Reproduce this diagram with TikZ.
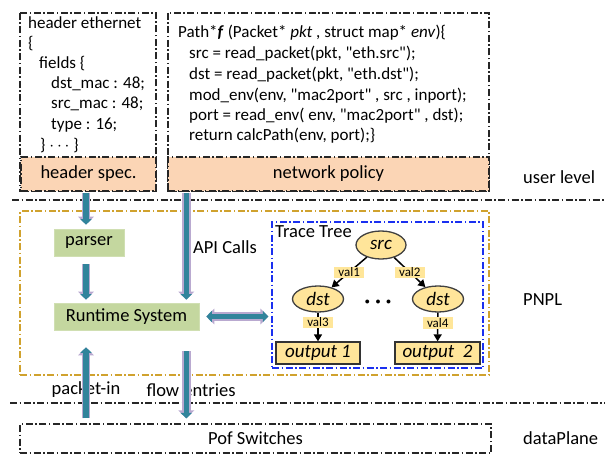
\documentclass[tikz,border=0pt]{standalone}
\usepackage{fontspec}
\setmainfont{Carlito}
\newfontfamily\codefont{Carlito}[Ligatures=TeXOff]
\usetikzlibrary{arrows.meta,shapes.geometric,calc}
\definecolor{peach}{HTML}{FBD5B5}
\definecolor{leaf}{HTML}{C4D79F}
\definecolor{arrowteal}{HTML}{31849B}
\definecolor{rim}{HTML}{B9A9D0}
\definecolor{goldline}{HTML}{D0A22E}
\definecolor{treeblue}{HTML}{1A30F0}
\definecolor{amber}{HTML}{FFE59A}
\definecolor{tagfill}{HTML}{FFE699}
\begin{document}
\begin{tikzpicture}[x=1pt,y=-1pt,
  dashdot/.style={dash pattern=on 7pt off 2.5pt on 1.5pt off 2.5pt},
  frame/.style={draw=black!85,line width=1.1pt,dashdot},
  codeline/.style={anchor=west,inner sep=0pt,font=\codefont\fontsize{17}{20}\selectfont},
  lbl/.style={inner sep=0pt,font=\fontsize{18.5}{22}\selectfont},
  sidelbl/.style={anchor=west,inner sep=0pt,font=\fontsize{18.5}{22}\selectfont},
  greenbox/.style={fill=leaf,draw=leaf!80!white,line width=0.6pt,inner sep=0pt,font=\fontsize{18.5}{22}\selectfont},
  fat/.style={draw=arrowteal,line width=5.5pt,-{Triangle[width=11pt,length=5.5pt]},
    preaction={draw=rim,line width=8.5pt,-{Triangle[width=15.5pt,length=8pt]}}},
  fatboth/.style={draw=arrowteal,line width=5.5pt,{Triangle[width=11pt,length=5.5pt]}-{Triangle[width=11pt,length=5.5pt]},
    preaction={draw=rim,line width=8.5pt,{Triangle[width=15.5pt,length=8pt]}-{Triangle[width=15.5pt,length=8pt]}}},
  treenode/.style={ellipse,draw=black!75,line width=1.3pt,fill=amber,inner sep=0pt,font=\fontsize{19}{22}\selectfont\itshape},
  outbox/.style={draw=black!80,line width=1.3pt,fill=amber,inner sep=0pt,minimum height=22pt,font=\fontsize{19}{22}\selectfont\itshape},
  tag/.style={fill=tagfill,inner xsep=4pt,inner ysep=1pt,font=\fontsize{13}{15}\selectfont},
  treearrow/.style={draw=black,line width=1.5pt,-{Triangle[width=8pt,length=7pt]}}
]
\useasboundingbox (0,0) rectangle (605,460);

% layer separators
\coordinate (sepAl) at (12,200);
\coordinate (sepAr) at (605,200);
\coordinate (sepBl) at (10,403);
\coordinate (sepBr) at (605,403);
\draw[black!85,line width=1.5pt,dashdot] (sepAl) -- (sepAr);
\draw[black!85,line width=1.5pt,dashdot] (sepBl) -- (sepBr);

% ---------- user level ----------
\draw[frame] (20,13) rectangle (156,191);
\node[frame,fill=peach,minimum width=135pt,minimum height=34pt,lbl] (hs) at (88.5,174) {header spec.};
\node[codeline] (l1) at (28,23) {header ethernet};
\node[codeline] (l2) at (28,44) {\{};
\node[codeline] (l3) at (39,64) {fields \{};
\node[codeline] (l4) at (51,84) {dst\_mac : 48;};
\node[codeline] (l5) at (51,104) {src\_mac : 48;};
\node[codeline] (l6) at (51,125) {type : 16;};
\node[codeline] (l7) at (40,146) {\} $\cdots$ \}};

\draw[frame] (168,13) rectangle (489,191);
\node[frame,fill=peach,minimum width=321pt,minimum height=34pt,lbl] (np) at (328.5,174) {network policy};
\node[codeline] (r1) at (178,33) {Path*\textbf{\textit{f}} (Packet* \textit{pkt} , struct map* \textit{env})\{};
\node[codeline] (r2) at (189,54) {src = read\_packet(pkt, "eth.src");};
\node[codeline] (r3) at (189,75) {dst = read\_packet(pkt, "eth.dst");};
\node[codeline] (r4) at (189,96) {mod\_env(env, "mac2port" , src , inport);};
\node[codeline] (r5) at (189,116) {port = read\_env( env, "mac2port" , dst);};
\node[codeline] (r6) at (189,136) {return calcPath(env, port);\}};

\node[sidelbl] (ul) at (523,177) {user level};

% ---------- PNPL ----------
\node[draw=goldline,line width=1.3pt,dashdot,minimum width=469pt,minimum height=164pt,inner sep=0pt] (pnpl) at (254.5,293) {};
\node[greenbox,minimum width=70pt,minimum height=27pt] (parser) at (89,242.5) {parser};
\node[greenbox,minimum width=145pt,minimum height=27pt] (rt) at (126.5,316.5) {Runtime System};
\node[lbl] (api) at (225,247) {API Calls};

\node[draw=treeblue,line width=1.3pt,dashdot,minimum width=211pt,minimum height=146pt,inner sep=0pt] (tt) at (377.5,295) {};
\node[lbl,anchor=west] (ttl) at (275,232) {Trace Tree};
\node[treenode,minimum width=50pt,minimum height=28pt] (src) at (381,245) {src};
\node[treenode,minimum width=51pt,minimum height=26pt] (dsta) at (318,299) {dst};
\node[treenode,minimum width=51pt,minimum height=26pt] (dstb) at (438,299) {dst};
\node[inner sep=0pt] (dots) at (378,302) {$\bullet\hspace{3.5pt}\bullet\hspace{3.5pt}\bullet$};
\node[outbox,minimum width=84pt] (outa) at (318,353) {output 1};
\node[outbox,minimum width=85pt] (outb) at (437.5,353) {output~~2};
\draw[treearrow] (src) -- node[tag] (v1) {val1} (dsta);
\draw[treearrow] (src) -- node[tag] (v2) {val2} (dstb);
\draw[treearrow] (dsta) -- node[tag,pos=0.33] (v3) {val3} (outa);
\draw[treearrow] (dstb) -- node[tag,pos=0.36] (v4) {val4} (outb);

\node[sidelbl] (pl) at (523,300) {PNPL};

% ---------- data plane ----------
\node[frame,minimum width=471pt,minimum height=29pt,lbl] (pof) at (255.5,438.5) {Pof Switches};
\node[sidelbl] (dp) at (523,438) {dataPlane};

\node[lbl] (pin) at (86,390) {packet-in};
\node[lbl] (flow) at (191,390) {flow entries};

% ---------- thick connectors ----------
\coordinate (hsOut) at ($(hs.south)+(-2.5,1)$);
\coordinate (apiTop) at ($(np.south -| rt.east)+(-13,1)$);
\draw[fat,shorten >=4pt] (hsOut) -- (hsOut |- parser.north);
\draw[fat,shorten >=3pt] ($(parser.south -| hsOut)+(0,8)$) -- (hsOut |- rt.north);
\draw[fat,shorten >=3pt] (apiTop) -- (apiTop |- rt.north);
\draw[fatboth] ($(rt.east)+(7,0)$) -- ($(rt.east -| tt.west)+(-3,0)$);
\draw[fat] ($(pof.north -| hsOut)+(0,-5)$) -- ($(rt.south -| hsOut)+(0,17)$);
\draw[fat] ($(rt.south -| apiTop)+(0,21)$) -- ($(pof.north -| apiTop)+(0,-5)$);
\end{tikzpicture}
\end{document}
